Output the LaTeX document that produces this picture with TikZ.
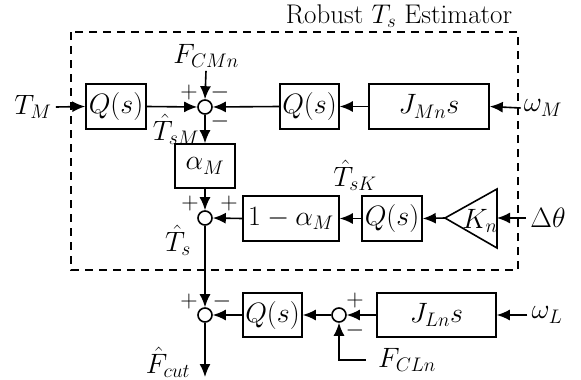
\documentclass[tikz,border=0pt]{standalone}
\usepackage{fix-cm}
\usetikzlibrary{arrows.meta}
\begin{document}
\begin{tikzpicture}[x=1pt,y=-1pt,
  every node/.style={font=\fontsize{28}{32}\selectfont, inner sep=0pt},
  blk/.style={draw, line width=1.6pt, minimum height=45pt},
  sumc/.style={draw, circle, line width=1.6pt, minimum size=14pt},
  sgn/.style={font=\fontsize{24}{28}\selectfont},
  arr/.style={line width=1.6pt, -{Latex[length=13pt,width=11pt]}}
]
\useasboundingbox (0,0) rectangle (581,380);
% dashed estimator box
\draw[line width=1.4pt, dash pattern=on 8pt off 6pt] (71,32) rectangle (518,270);
\node[font=\fontsize{27}{30}\selectfont] (title) at (399,16) {Robust $T_s$ Estimator};

% row 1
\node (tm) at (33,107) {$T_M$};
\node[blk, minimum width=60pt] (q1) at (116,106.5) {$Q(s)$};
\node[sumc] (s1) at (205,107) {};
\node (fcm) at (206,56) {$F_{CMn}$};
\node[blk, minimum width=59pt] (q2) at (309.5,106.5) {$Q(s)$};
\node[blk, minimum width=120pt] (jm) at (429,106.5) {$J_{Mn}s$};
\node (wm) at (543,108) {$\omega_M$};

% row 2
\node[blk, minimum width=60pt, minimum height=44pt] (am) at (205,166) {$\alpha_M$};
\node[sumc] (s2) at (205,218) {};
\node[blk, minimum width=96pt] (oam) at (291,218.5) {$1-\alpha_M$};
\node[blk, minimum width=60pt] (q3) at (392,218.5) {$Q(s)$};
\coordinate (kapex) at (445,218);
\coordinate (kbase) at (497,218);
\draw[line width=1.6pt] (kapex) -- (497,189) -- (497,248) -- cycle;
\node (kn) at (480,221) {$K_n$};
\node (dth) at (548,218) {$\Delta\theta$};

% row 3
\node[sumc] (s3) at (205,315) {};
\node[blk, minimum width=59pt, minimum height=44pt] (q4) at (272.5,315) {$Q(s)$};
\node[sumc] (s4) at (339,315) {};
\node[blk, minimum width=119pt, minimum height=44pt] (jl) at (436.5,315) {$J_{Ln}s$};
\node (wl) at (547,315) {$\omega_L$};
\node (fcl) at (407,360) {$F_{CLn}$};
\node (fcut) at (168,362) {$\hat{F}_{cut}$};
\coordinate (out) at (205,377);

% labels
\node (tsm) at (176,129) {$\hat{T}_{sM}$};
\node (ts) at (178,240) {$\hat{T}_{s}$};
\node (tsk) at (355,175) {$\hat{T}_{sK}$};

% signs
\node[sgn] at (189,92) {$+$};
\node[sgn] at (220,92) {$-$};
\node[sgn] at (220,121) {$-$};
\node[sgn] at (190,203) {$+$};
\node[sgn] at (229,203) {$+$};
\node[sgn] at (189,301) {$+$};
\node[sgn] at (222,301) {$-$};
\node[sgn] at (355,300) {$+$};
\node[sgn] at (355,330) {$-$};

% connectors
\draw[arr] (tm.east) ++(4,0) -- (q1.west);
\draw[arr] (q1.east) -- (s1.west);
\draw[arr] (fcm.south) ++(0,3) -- (s1.north);
\draw[arr] (q2.west) -- (s1.east);
\draw[arr] (jm.west) -- (q2.east);
\draw[arr] (wm.west) ++(-3,0) -- (jm.east);
\draw[arr] (s1.south) -- (am.north);
\draw[arr] (am.south) -- (s2.north);
\draw[arr] (oam.west) -- (s2.east);
\draw[arr] (q3.west) -- (oam.east);
\draw[arr] (kapex) -- (q3.east);
\draw[arr] (dth.west) ++(-4,0) -- (kbase);
\draw[arr] (s2.south) -- (s3.north);
\draw[arr] (q4.west) -- (s3.east);
\draw[arr] (s4.west) -- (q4.east);
\draw[arr] (jl.west) -- (s4.east);
\draw[arr] (wl.west) ++(-4,0) -- (jl.east);
\draw[arr] (fcl.west) ++(-12,0) -| (s4.south);
\draw[arr] (s3.south) -- (out);
\end{tikzpicture}
\end{document}
